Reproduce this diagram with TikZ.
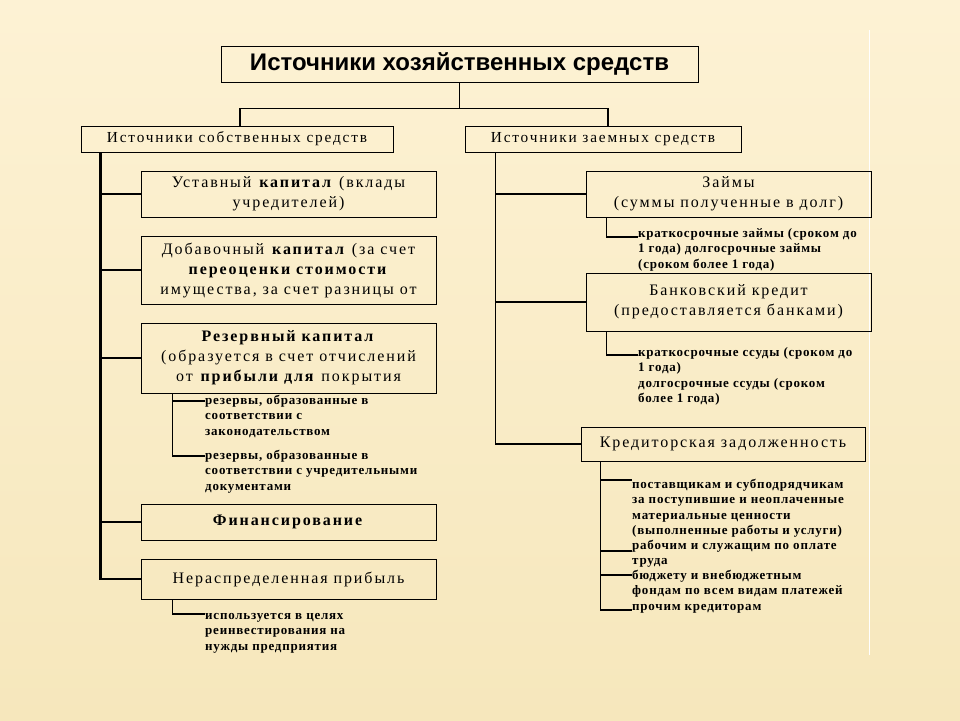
\documentclass[tikz,border=0pt]{standalone}
\usepackage{fontspec}
\setmainfont{Liberation Serif}
\newfontfamily\titlefont{Liberation Sans}
\newfontfamily\boxfont[LetterSpace=12]{Liberation Serif}
\newfontfamily\notefont[LetterSpace=6]{Liberation Serif}
\usetikzlibrary{positioning}
\definecolor{bgtop}{RGB}{253,242,212}
\definecolor{bgbot}{RGB}{246,231,188}

\begin{document}
\begin{tikzpicture}[x=1pt,y=-1pt]
\tikzset{
  mainbox/.style={draw,line width=1pt,minimum width=#1,align=center,inner sep=0pt},
  bigtext/.style={font=\boxfont\fontsize{16}{20}\selectfont},
  midtext/.style={font=\boxfont\fontsize{15.3}{17}\selectfont},
  note/.style={font=\notefont\bfseries\fontsize{13}{15.4}\selectfont,align=left,anchor=north west,inner sep=0pt,execute at begin node=\strut},
  trunk/.style={line width=2.5pt},
  branch/.style={line width=1.1pt}
}
% Fondo
\shade[top color=bgtop,bottom color=bgbot] (0,0) rectangle (960,720);
\useasboundingbox (0,0) rectangle (960,720);
\draw[white,line width=1pt] (869,30) -- (869,655);
% Nodos
\node [mainbox=477pt,minimum height=36pt,font=\titlefont\bfseries\fontsize{24}{26}\selectfont] (title) at (459.5,64) {Источники хозяйственных средств};
\node [mainbox=312pt,minimum height=26pt,midtext] (own) at (237,139) {Источники собственных средств};
\node [mainbox=276pt,minimum height=26pt,midtext] (loan) at (603,139) {Источники заемных средств};
\node [mainbox=295pt,minimum height=46pt,bigtext] (ustav) at (288.5,194) {Уставный \textbf{капитал} (вклады\\учредителей)};
\node [mainbox=295pt,minimum height=68pt,bigtext] (dob) at (288.5,270) {Добавочный \textbf{капитал} (за счет\\\textbf{переоценки стоимости}\\имущества, за счет разницы от};
\node [mainbox=295pt,minimum height=70pt,bigtext] (rez) at (288.5,358) {\textbf{Резервный капитал}\\(образуется в счет отчислений\\от \textbf{прибыли для} покрытия};
\node [mainbox=295pt,minimum height=36pt,bigtext] (fin) at (288.5,522) {\textbf{Финансирование}};
\node [mainbox=295pt,minimum height=40pt,bigtext] (nerasp) at (288.5,579) {Нераспределенная прибыль};
\node [mainbox=285pt,minimum height=46pt,bigtext] (zaim) at (728.5,194) {Займы\\(суммы полученные в долг)};
\node [mainbox=285pt,minimum height=58pt,bigtext] (bank) at (728.5,302) {Банковский кредит\\(предоставляется банками)};
\node [mainbox=284pt,minimum height=34pt,bigtext] (kred) at (723,444) {Кредиторская задолженность};
% Пояснения
\node [note] (rez1) at (205,395) {резервы, образованные в\\соответствии с\\законодательством};
\node [note] (rez2) at (205,450) {резервы, образованные в\\соответствии с учредительными\\документами};
\node [note] (np1) at (205,613) {используется в целях\\реинвестирования на\\нужды предприятия};
\node [note] (zaim1) at (638,228) {краткосрочные займы (сроком до\\1 года) долгосрочные займы\\(сроком более 1 года)};
\node [note] (bank1) at (638,347) {краткосрочные ссуды (сроком до\\1 года)\\долгосрочные ссуды (сроком\\более 1 года)};
\node [note] (kred1) at (632,479) {поставщикам и субподрядчикам\\за поступившие и неоплаченные\\материальные ценности\\(выполненные работы и услуги)};
\node [note] (kred2) at (632,540) {рабочим и служащим по оплате\\труда};
\node [note] (kred3) at (632,570) {бюджету и внебюджетным\\фондам по всем видам платежей};
\node [note] (kred4) at (632,600) {прочим кредиторам};
% Связи
\draw [branch] (title.south) -- ++(0,26) coordinate (mid);
\draw [branch] ([xshift=3pt]own.north) |- (mid) -| ([xshift=5pt]loan.north);
\draw [trunk] (own.south west) ++(20,0) coordinate (lt) |- (nerasp.west);
\draw [trunk] (ustav.west) -- (ustav.west -| lt);
\foreach \b in {dob,rez,fin}
  \draw [branch] (\b.west) -- (\b.west -| lt);
\draw [line width=1.6pt] (loan.south west) ++(31,0) coordinate (rt) |- (kred.west);
\draw [trunk] (zaim.west) -- (zaim.west -| rt);
\draw [branch] (bank.west) -- (bank.west -| rt);
% Подпункты
\draw [branch] (rez.south west) ++(32,0) coordinate (r0) |- ([yshift=-6pt]rez1.north west);
\draw [branch] (r0) |- ([yshift=-6pt]rez2.north west);
\draw [branch] (nerasp.south west) ++(32,0) |- ([yshift=-1pt]np1.north west);
\draw [branch] (zaim.south west) ++(21,0) |- ([yshift=-9pt]zaim1.north west);
\draw [branch] (bank.south west) ++(21,0) |- ([yshift=-8pt]bank1.north west);
\draw [branch] (kred.south west) ++(20,0) coordinate (k0) |- ([yshift=-1pt]kred1.north west);
\draw [branch] (k0) |- ([yshift=-11pt]kred2.north west);
\draw [branch] (k0) |- ([yshift=-5pt]kred3.north west);
\draw [branch] (k0) |- ([yshift=-10pt]kred4.north west);
\end{tikzpicture}
\end{document}
